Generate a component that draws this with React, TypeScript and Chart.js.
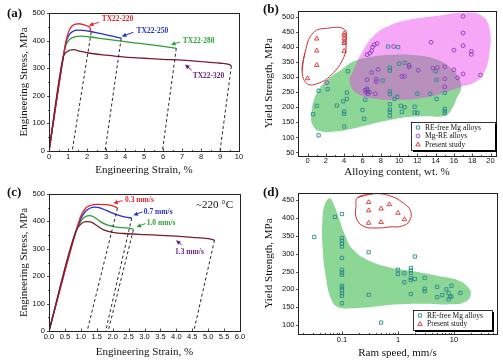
import { useEffect, useRef } from 'react';
import { Chart, registerables } from 'chart.js';

Chart.register(...registerables);

const SERIF = '"Liberation Serif", "Times New Roman", serif';
const SANS = '"Liberation Sans", Arial, sans-serif';

// ================= Panel (a): TX22 extruded at different temperatures =================
const aStrainTicks = [0, 1, 2, 3, 4, 5, 6, 7, 8, 9, 10];
const aStressTicks = [0, 100, 200, 300, 400, 500];

const tx220Strain = [0, 0.75, 0.9, 1.05, 1.2, 1.4, 1.6, 1.8, 2.05, 2.15, 2.2];
const tx220Stress = [0, 340, 400, 435, 452, 460, 461, 458, 452, 448, 432];
const tx250Strain = [0, 0.75, 0.9, 1.05, 1.25, 1.5, 1.8, 2.2, 2.6, 3.0, 3.4, 3.8];
const tx250Stress = [0, 340, 395, 420, 433, 438, 437, 433, 427, 421, 415, 409];
const tx280Strain = [0, 0.75, 0.9, 1.1, 1.4, 1.7, 2.2, 3.0, 4.0, 5.0, 6.0, 6.7];
const tx280Stress = [0, 340, 385, 405, 414, 416, 413, 405, 396, 388, 379, 372];
const tx320Strain = [0, 0.75, 0.9, 1.1, 1.3, 1.6, 2.0, 3.0, 4.0, 5.0, 6.0, 7.0, 8.0, 9.0, 9.5, 9.6];
const tx320Stress = [0, 340, 357, 365, 367, 362, 356, 347, 340, 336, 332, 329, 324, 318, 313, 308];

const aUnload1Strain = [2.22, 1.22];
const aUnload1Stress = [430, 0];
const aUnload2Strain = [3.8, 2.95];
const aUnload2Stress = [409, 0];
const aUnload3Strain = [6.7, 5.97];
const aUnload3Stress = [372, 0];
const aUnload4Strain = [9.6, 9.0];
const aUnload4Stress = [308, 0];

// ================= Panel (b): yield strength vs alloying content =================
const bContentTicks = [0, 2, 4, 6, 8, 10, 12, 14, 16, 18, 20];
const bYieldTicks = [50, 100, 150, 200, 250, 300, 350, 400, 450, 500];

const bFreeContent = [0.6, 1.0, 1.2, 1.2, 2.2, 3.2, 3.9, 4.0, 4.0, 4.0, 4.3, 4.3, 4.4, 6.0, 6.2, 6.3, 6.5, 6.6, 8.2, 8.8, 9.0, 9.0, 9.0, 9.0, 9.0, 9.0, 9.0, 9.0, 9.5, 9.8, 9.9, 10.0, 10.2, 10.3, 10.6, 10.6, 11.7, 11.7, 12.0, 12.0, 13.4, 14.0, 14.1, 14.1, 15.0, 15.0, 15.0, 15.0];
const bFreeYield = [177, 205, 107, 255, 260, 206, 220, 186, 178, 136, 228, 249, 320, 191, 162, 225, 258, 252, 289, 402, 332, 322, 253, 244, 210, 192, 185, 172, 228, 235, 400, 345, 205, 185, 200, 348, 202, 183, 182, 245, 245, 320, 291, 228, 248, 195, 187, 180];

const bReContent = [2.1, 6.3, 6.4, 6.5, 6.6, 6.8, 6.5, 6.5, 6.8, 7.0, 7.1, 7.3, 7.6, 7.0, 7.5, 7.5, 7.7, 7.4, 9.4, 10.3, 10.6, 11.1, 11.1, 12.1, 13.5, 13.7, 14.2, 15.0, 15.0, 15.0, 16.0, 16.0, 16.4, 17.0, 17.0, 17.0, 17.0, 17.9, 17.9, 18.9];
const bReYield = [282, 257, 250, 262, 245, 250, 292, 375, 380, 388, 400, 408, 412, 316, 293, 285, 326, 245, 402, 303, 303, 340, 334, 323, 416, 330, 332, 335, 295, 268, 390, 325, 298, 502, 447, 405, 311, 386, 376, 307];

const bPresentContent = [0, 1, 1, 1, 4, 4, 4, 4, 4, 4];
const bPresentYield = [296, 428, 388, 340, 445, 438, 428, 418, 413, 387];

const bGreenOutlineX = [0.4, 0.6, 1.3, 2.4, 3.7, 5.0, 7.0, 9.5, 12.0, 14.0, 15.5, 16.5, 16.8, 16.3, 15.8, 15.0, 13.0, 11.0, 9.0, 7.0, 5.0, 3.0, 1.2, 0.5];
const bGreenOutlineY = [170, 215, 262, 298, 325, 352, 368, 375, 372, 360, 335, 300, 265, 230, 195, 172, 170, 168, 158, 145, 130, 120, 122, 145];
const bPinkOutlineX = [4.6, 5.1, 6.0, 7.3, 9.0, 11.0, 14.0, 17.0, 19.0, 19.9, 19.9, 19.3, 18.3, 16.8, 15.3, 12.8, 10.0, 7.5, 5.5];
const bPinkOutlineY = [285, 330, 385, 440, 472, 490, 503, 514, 505, 460, 385, 315, 283, 268, 252, 232, 225, 228, 245];
const bLoopX = [-0.6, -0.3, 0.6, 2.2, 4.05, 4.2, 4.0, 2.6, 1.0, -0.1];
const bLoopY = [320, 380, 447, 463, 458, 413, 369, 308, 278, 280];

// ================= Panel (c): TX22 at different ram speeds =================
const cStrainTicks = [0, 0.5, 1, 1.5, 2, 2.5, 3, 3.5, 4, 4.5, 5, 5.5, 6];
const cStressTicks = [0, 100, 200, 300, 400, 500];

const s03Strain = [0, 0.85, 1.0, 1.15, 1.3, 1.5, 1.8, 2.0, 2.1, 2.15];
const s03Stress = [0, 365, 420, 448, 458, 462, 461, 457, 452, 448];
const s07Strain = [0, 0.85, 1.0, 1.15, 1.3, 1.45, 1.6, 1.8, 2.0, 2.2, 2.4, 2.6];
const s07Stress = [0, 365, 410, 437, 449, 452, 449, 440, 430, 422, 416, 412];
const s10Strain = [0, 0.85, 1.0, 1.1, 1.25, 1.4, 1.6, 1.8, 2.0, 2.3, 2.6, 2.65];
const s10Stress = [0, 365, 400, 414, 421, 417, 400, 388, 382, 377, 374, 369];
const s13Strain = [0, 0.85, 1.0, 1.15, 1.3, 1.5, 1.7, 2.0, 2.5, 3.0, 3.5, 4.0, 4.5, 5.0, 5.2];
const s13Stress = [0, 365, 390, 399, 398, 385, 370, 360, 355, 352, 349, 346, 342, 337, 332];

const cUnload1Strain = [2.15, 1.2];
const cUnload1Stress = [448, 0];
const cUnload2Strain = [2.6, 1.78];
const cUnload2Stress = [412, 0];
const cUnload3Strain = [2.65, 1.86];
const cUnload3Stress = [369, 0];
const cUnload4Strain = [5.2, 4.55];
const cUnload4Stress = [332, 0];

// ================= Panel (d): yield strength vs ram speed =================
const dSpeedTicks = [0.1, 1, 10];
const dSpeedMinor = [0.02, 0.03, 0.04, 0.05, 0.06, 0.07, 0.08, 0.09, 0.2, 0.3, 0.4, 0.5, 0.6, 0.7, 0.8, 0.9, 2, 3, 4, 5, 6, 7, 8, 9, 20, 30, 40, 50];
const dYieldTicks = [100, 150, 200, 250, 300, 350, 400, 450];

const dFreeSpeed = [0.032, 0.075, 0.1, 0.1, 0.1, 0.1, 0.1, 0.1, 0.1, 0.1, 0.1, 0.1, 0.1, 0.1, 0.1, 0.1, 0.1, 0.3, 0.3, 0.5, 1, 1, 1.3, 1.3, 1.7, 1.7, 1.7, 1.7, 1.7, 1.7, 2, 2, 3, 3, 3, 5, 5, 6.2, 7.3, 8, 8, 8.5, 9, 9, 13];
const dFreeYield = [347, 403, 411, 344, 336, 328, 320, 288, 255, 247, 241, 210, 205, 198, 189, 182, 161, 304, 185, 107, 255, 243, 245, 220, 260, 253, 246, 232, 226, 187, 292, 229, 232, 202, 195, 207, 178, 184, 200, 190, 172, 180, 210, 180, 190];
const dPresentSpeed = [0.3, 0.3, 0.3, 0.5, 0.5, 0.7, 1.0, 1.3];
const dPresentYield = [444, 421, 386, 426, 388, 438, 414, 396];

const dGreenOutlineX = [0.061, 0.075, 0.09, 0.115, 0.15, 0.28, 0.7, 2.0, 5, 12, 18, 20, 16, 9, 3, 1, 0.4, 0.15, 0.085, 0.065, 0.052, 0.045, 0.045, 0.05];
const dGreenOutlineY = [455, 430, 395, 350, 315, 283, 262, 250, 238, 225, 205, 185, 165, 158, 160, 158, 152, 147, 150, 170, 230, 320, 400, 440];
const dLoopX = [0.19, 0.36, 0.72, 1.24, 1.68, 1.59, 1.16, 0.72, 0.42, 0.24, 0.18, 0.178];
const dLoopY = [457, 468, 462, 442, 419, 391, 377, 375, 372, 377, 400, 433];

// ================= helpers =================
const C_RED = '#e3262b';
const C_BLUE = '#2430cc';
const C_GREEN = '#2f9e3a';
const C_MAROON = '#7a1c30';
const C_PURPLE = '#6c2080';
const C_TEAL = '#2e8b8b';
const C_VIOLET = '#8a3ac0';
const C_TRI = '#d03434';

const pts = (xs: number[], ys: number[]) => xs.map((x, i) => ({ x, y: ys[i] }));
const loopPts = (xs: number[], ys: number[]) => {
  const p = pts(xs, ys);
  return [...p, p[0], p[1]];
};
const mids = (t: number[]) => t.slice(0, -1).map((v, i) => (v + t[i + 1]) / 2);

const curve = (xs: number[], ys: number[], color: string) => ({
  data: pts(xs, ys),
  showLine: true,
  borderColor: color,
  borderWidth: 1.3,
  pointRadius: 0,
  cubicInterpolationMode: 'monotone',
  fill: false,
});
const dashed = (xs: number[], ys: number[]) => ({
  data: pts(xs, ys),
  showLine: true,
  borderColor: '#111',
  borderWidth: 0.9,
  borderDash: [3, 2.5],
  pointRadius: 0,
  fill: false,
});
const scatter = (xs: number[], ys: number[], color: string, style: string, r: number, order: number) => ({
  data: pts(xs, ys),
  showLine: false,
  pointStyle: style,
  pointRadius: r,
  pointBorderWidth: 0.9,
  pointBorderColor: color,
  pointBackgroundColor: 'rgba(0,0,0,0)',
  borderColor: color,
  order,
});
const blob = (xs: number[], ys: number[], fillColor: string, order: number) => ({
  data: loopPts(xs, ys),
  showLine: true,
  borderWidth: 0,
  borderColor: 'rgba(0,0,0,0)',
  backgroundColor: fillColor,
  fill: 'shape',
  tension: 0.45,
  pointRadius: 0,
  order,
});
const outline = (xs: number[], ys: number[], color: string, order: number) => ({
  data: loopPts(xs, ys),
  showLine: true,
  borderWidth: 1,
  borderColor: color,
  fill: false,
  tension: 0.45,
  pointRadius: 0,
  order,
});

function axis(cfg: {
  type?: string;
  min: number;
  max: number;
  ticks: number[];
  fmt?: (v: number) => string;
  horiz: boolean;
  fit: number;
  title: string;
  titlePad: number;
  tickPad: number;
}) {
  return {
    type: cfg.type || 'linear',
    min: cfg.min,
    max: cfg.max,
    afterBuildTicks: (s: any) => {
      s.ticks = cfg.ticks.map((v) => ({ value: v }));
    },
    afterFit: (s: any) => {
      if (cfg.horiz) s.height = cfg.fit;
      else s.width = cfg.fit;
    },
    grid: { display: false, drawTicks: false },
    border: { display: false },
    ticks: {
      autoSkip: false,
      maxRotation: 0,
      padding: cfg.tickPad,
      color: '#111',
      font: { family: SANS, size: 7.5 },
      callback: (v: any) => (cfg.fmt ? cfg.fmt(Number(v)) : String(v)),
    },
    title: {
      display: true,
      text: cfg.title,
      color: '#111',
      font: { family: SERIF, size: 11 },
      padding: cfg.horiz ? { top: 0, bottom: cfg.titlePad } : { top: cfg.titlePad, bottom: 0 },
    },
  };
}

type Note = { t: string; x: number; y: number; c: string; f: string; arrow?: number[] };
type LegendItem = { kind: string; color: string; text: string };
type Deco = {
  label: string;
  lx: number;
  ly: number;
  xMajor: number[];
  xMinor: number[];
  yMajor: number[];
  yMinor: number[];
  notes: Note[];
  legend?: { dr: number; db: number; w: number; h: number; y0: number; dy: number; items: LegendItem[] };
};

function marker(ctx: CanvasRenderingContext2D, kind: string, x: number, y: number, color: string) {
  ctx.strokeStyle = color;
  ctx.lineWidth = 0.9;
  ctx.beginPath();
  if (kind === 'rect') ctx.rect(x - 1.6, y - 1.6, 3.2, 3.2);
  else if (kind === 'circle') ctx.arc(x, y, 1.9, 0, Math.PI * 2);
  else {
    ctx.moveTo(x, y - 2.4);
    ctx.lineTo(x + 2.2, y + 1.4);
    ctx.lineTo(x - 2.2, y + 1.4);
    ctx.closePath();
  }
  ctx.stroke();
}

function makeDeco(o: Deco) {
  return {
    id: 'deco',
    afterDraw(chart: any) {
      const ctx: CanvasRenderingContext2D = chart.ctx;
      const a = chart.chartArea;
      const xs = chart.scales.x;
      const ys = chart.scales.y;
      ctx.save();
      // frame
      ctx.strokeStyle = '#222';
      ctx.lineWidth = 1;
      const L = Math.round(a.left) + 0.5;
      const T = Math.round(a.top) + 0.5;
      const R = Math.round(a.right) + 0.5;
      const B = Math.round(a.bottom) + 0.5;
      ctx.strokeRect(L, T, R - L, B - T);
      // ticks
      const xt = (vals: number[], len: number) =>
        vals.forEach((v) => {
          const p = Math.round(xs.getPixelForValue(v)) + 0.5;
          if (p < L - 0.1 || p > R + 0.1) return;
          ctx.beginPath();
          ctx.moveTo(p, B);
          ctx.lineTo(p, B - len);
          ctx.stroke();
        });
      const yt = (vals: number[], len: number) =>
        vals.forEach((v) => {
          const p = Math.round(ys.getPixelForValue(v)) + 0.5;
          if (p < T - 0.1 || p > B + 0.1) return;
          ctx.beginPath();
          ctx.moveTo(L, p);
          ctx.lineTo(L - len, p);
          ctx.stroke();
        });
      ctx.lineWidth = 0.8;
      xt(o.xMajor, 3);
      xt(o.xMinor, 1.6);
      yt(o.yMajor, 2.5);
      yt(o.yMinor, 1.4);
      // notes with arrows
      for (const n of o.notes) {
        ctx.font = n.f;
        ctx.fillStyle = n.c;
        ctx.textAlign = 'left';
        ctx.textBaseline = 'middle';
        ctx.fillText(n.t, xs.getPixelForValue(n.x), ys.getPixelForValue(n.y));
        if (n.arrow) {
          const x1 = xs.getPixelForValue(n.arrow[0]);
          const y1 = ys.getPixelForValue(n.arrow[1]);
          const x2 = xs.getPixelForValue(n.arrow[2]);
          const y2 = ys.getPixelForValue(n.arrow[3]);
          const ang = Math.atan2(y2 - y1, x2 - x1);
          const hl = 4.5;
          const hw = 2.2;
          const cs = Math.cos(ang);
          const sn = Math.sin(ang);
          ctx.strokeStyle = n.c;
          ctx.lineWidth = 1;
          ctx.beginPath();
          ctx.moveTo(x1, y1);
          ctx.lineTo(x2 - hl * 0.6 * cs, y2 - hl * 0.6 * sn);
          ctx.stroke();
          ctx.beginPath();
          ctx.moveTo(x2, y2);
          ctx.lineTo(x2 - hl * cs + hw * sn, y2 - hl * sn - hw * cs);
          ctx.lineTo(x2 - hl * cs - hw * sn, y2 - hl * sn + hw * cs);
          ctx.closePath();
          ctx.fill();
        }
      }
      // legend box
      if (o.legend) {
        const g = o.legend;
        const right = Math.round(a.right - g.dr);
        const bottom = Math.round(a.bottom - g.db);
        const left = right - g.w;
        const top = bottom - g.h;
        ctx.fillStyle = '#000';
        ctx.fillRect(left + 2, top + 2, g.w, g.h);
        ctx.fillStyle = '#fff';
        ctx.fillRect(left, top, g.w, g.h);
        ctx.strokeStyle = '#000';
        ctx.lineWidth = 0.8;
        ctx.strokeRect(left + 0.5, top + 0.5, g.w, g.h);
        g.items.forEach((it, i) => {
          const cy = top + g.y0 + i * g.dy;
          marker(ctx, it.kind, left + 7, cy, it.color);
          ctx.fillStyle = '#111';
          ctx.font = `7.5px ${SERIF}`;
          ctx.textAlign = 'left';
          ctx.textBaseline = 'middle';
          ctx.fillText(it.text, left + 14, cy + 0.5);
        });
      }
      // panel label
      ctx.fillStyle = '#111';
      ctx.font = `bold 13px ${SERIF}`;
      ctx.textAlign = 'left';
      ctx.textBaseline = 'alphabetic';
      ctx.fillText(o.label, o.lx, o.ly);
      ctx.restore();
    },
  };
}

const baseOptions = (padding: any, scales: any) => ({
  responsive: false,
  animation: false,
  events: [],
  devicePixelRatio: 1,
  layout: { padding },
  plugins: { legend: { display: false }, tooltip: { enabled: false } },
  scales,
});

const NOTE_FONT = `bold 7.5px ${SERIF}`;

function configA(): any {
  return {
    type: 'scatter',
    data: {
      datasets: [
        dashed(aUnload1Strain, aUnload1Stress),
        dashed(aUnload2Strain, aUnload2Stress),
        dashed(aUnload3Strain, aUnload3Stress),
        dashed(aUnload4Strain, aUnload4Stress),
        curve(tx320Strain, tx320Stress, C_MAROON),
        curve(tx220Strain, tx220Stress, C_RED),
        curve(tx250Strain, tx250Stress, C_BLUE),
        curve(tx280Strain, tx280Stress, C_GREEN),
      ],
    },
    options: baseOptions(
      { left: 0, top: 13, right: 12, bottom: 0 },
      {
        x: axis({ min: 0, max: 10, ticks: aStrainTicks, horiz: true, fit: 30, title: 'Engineering Strain, %', titlePad: 4.4, tickPad: 1.5 }),
        y: axis({ min: 0, max: 500, ticks: aStressTicks, horiz: false, fit: 49, title: 'Engineering Stress, MPa', titlePad: 18, tickPad: 4 }),
      }
    ),
    plugins: [
      makeDeco({
        label: '(a)',
        lx: 7,
        ly: 17,
        xMajor: aStrainTicks,
        xMinor: mids(aStrainTicks),
        yMajor: aStressTicks,
        yMinor: mids(aStressTicks),
        notes: [
          { t: 'TX22-220', x: 2.77, y: 478, c: C_RED, f: NOTE_FONT, arrow: [2.62, 466, 2.1, 455] },
          { t: 'TX22-250', x: 4.61, y: 435, c: C_BLUE, f: NOTE_FONT, arrow: [4.44, 430, 3.83, 415] },
          { t: 'TX22-280', x: 7.04, y: 400, c: C_GREEN, f: NOTE_FONT, arrow: [6.9, 395, 6.42, 385] },
          { t: 'TX22-320', x: 7.56, y: 272, c: C_PURPLE, f: NOTE_FONT, arrow: [7.5, 293, 7.16, 313] },
        ],
      }),
    ],
  };
}

function configB(): any {
  return {
    type: 'scatter',
    data: {
      datasets: [
        blob(bGreenOutlineX, bGreenOutlineY, 'rgb(140,214,150)', 12),
        blob(bPinkOutlineX, bPinkOutlineY, 'rgba(235,60,235,0.45)', 11),
        outline(bLoopX, bLoopY, '#c83232', 10),
        scatter(bFreeContent, bFreeYield, C_TEAL, 'rect', 2.3, 2),
        scatter(bReContent, bReYield, C_VIOLET, 'circle', 1.9, 1),
        scatter(bPresentContent, bPresentYield, C_TRI, 'triangle', 2.6, 0),
      ],
    },
    options: baseOptions(
      { left: 0, top: 11, right: 7, bottom: 0 },
      {
        x: axis({ min: -1.05, max: 20.6, ticks: bContentTicks, horiz: true, fit: 25.5, title: 'Alloying content, wt. %', titlePad: 2.4, tickPad: 0.5 }),
        y: axis({ min: 40, max: 520, ticks: bYieldTicks, horiz: false, fit: 47, title: 'Yield Strength, MPa', titlePad: 11.4, tickPad: 3.5 }),
      }
    ),
    plugins: [
      makeDeco({
        label: '(b)',
        lx: 12,
        ly: 13,
        xMajor: bContentTicks,
        xMinor: [-1, 1, 3, 5, 7, 9, 11, 13, 15, 17, 19],
        yMajor: bYieldTicks,
        yMinor: [],
        notes: [],
        legend: {
          dr: 1,
          db: 6,
          w: 84,
          h: 28,
          y0: 5.5,
          dy: 8.5,
          items: [
            { kind: 'rect', color: C_TEAL, text: 'RE-free Mg alloys' },
            { kind: 'circle', color: C_VIOLET, text: 'Mg-RE alloys' },
            { kind: 'triangle', color: C_TRI, text: 'Present study' },
          ],
        },
      }),
    ],
  };
}

function configC(): any {
  return {
    type: 'scatter',
    data: {
      datasets: [
        dashed(cUnload1Strain, cUnload1Stress),
        dashed(cUnload2Strain, cUnload2Stress),
        dashed(cUnload3Strain, cUnload3Stress),
        dashed(cUnload4Strain, cUnload4Stress),
        curve(s13Strain, s13Stress, C_MAROON),
        curve(s03Strain, s03Stress, C_RED),
        curve(s07Strain, s07Stress, C_BLUE),
        curve(s10Strain, s10Stress, C_GREEN),
      ],
    },
    options: baseOptions(
      { left: 0, top: 13, right: 11, bottom: 0 },
      {
        x: axis({ min: 0, max: 6, ticks: cStrainTicks, fmt: (v) => v.toFixed(1), horiz: true, fit: 31, title: 'Engineering Strain, %', titlePad: 3.5, tickPad: 1.5 }),
        y: axis({ min: 0, max: 500, ticks: cStressTicks, horiz: false, fit: 49, title: 'Engineering Stress, MPa', titlePad: 18, tickPad: 4 }),
      }
    ),
    plugins: [
      makeDeco({
        label: '(c)',
        lx: 7,
        ly: 15,
        xMajor: cStrainTicks,
        xMinor: [],
        yMajor: cStressTicks,
        yMinor: mids(cStressTicks),
        notes: [
          { t: '0.3 mm/s', x: 2.39, y: 478, c: C_RED, f: NOTE_FONT, arrow: [2.31, 476, 2.02, 466] },
          { t: '0.7 mm/s', x: 2.98, y: 435, c: C_BLUE, f: NOTE_FONT, arrow: [2.94, 435, 2.65, 422] },
          { t: '1.0 mm/s', x: 3.07, y: 393, c: C_GREEN, f: NOTE_FONT, arrow: [3.03, 392, 2.75, 380] },
          { t: '1.3 mm/s', x: 3.96, y: 287, c: C_PURPLE, f: NOTE_FONT, arrow: [4.17, 314, 3.99, 331] },
          { t: '~220 \u00B0C', x: 4.62, y: 460, c: '#111', f: `11px ${SERIF}` },
        ],
      }),
    ],
  };
}

function configD(): any {
  return {
    type: 'scatter',
    data: {
      datasets: [
        blob(dGreenOutlineX, dGreenOutlineY, 'rgb(140,214,150)', 12),
        outline(dLoopX, dLoopY, '#c83232', 10),
        scatter(dFreeSpeed, dFreeYield, C_TEAL, 'rect', 2.3, 1),
        scatter(dPresentSpeed, dPresentYield, C_TRI, 'triangle', 2.6, 0),
      ],
    },
    options: baseOptions(
      { left: 0, top: 12, right: 6, bottom: 0 },
      {
        x: axis({ type: 'logarithmic', min: 0.0164, max: 58.6, ticks: dSpeedTicks, horiz: true, fit: 28, title: 'Ram speed, mm/s', titlePad: 2.4, tickPad: 1.5 }),
        y: axis({ min: 75, max: 470, ticks: dYieldTicks, horiz: false, fit: 47, title: 'Yield Strength, MPa', titlePad: 11.4, tickPad: 3.5 }),
      }
    ),
    plugins: [
      makeDeco({
        label: '(d)',
        lx: 12,
        ly: 15,
        xMajor: dSpeedTicks,
        xMinor: dSpeedMinor,
        yMajor: dYieldTicks,
        yMinor: [],
        notes: [],
        legend: {
          dr: 5,
          db: 4,
          w: 79,
          h: 20,
          y0: 5.5,
          dy: 8.5,
          items: [
            { kind: 'rect', color: C_TEAL, text: 'RE-free Mg alloys' },
            { kind: 'triangle', color: C_TRI, text: 'Present study' },
          ],
        },
      }),
    ],
  };
}

export default function App() {
  const ra = useRef<HTMLCanvasElement>(null);
  const rb = useRef<HTMLCanvasElement>(null);
  const rc = useRef<HTMLCanvasElement>(null);
  const rd = useRef<HTMLCanvasElement>(null);

  useEffect(() => {
    const charts: Chart[] = [];
    const pairs: [HTMLCanvasElement | null, () => any][] = [
      [ra.current, configA],
      [rb.current, configB],
      [rc.current, configC],
      [rd.current, configD],
    ];
    for (const [el, cfg] of pairs) {
      if (el) charts.push(new Chart(el, cfg()));
    }
    return () => charts.forEach((c) => c.destroy());
  }, []);

  const cv = (left: number, top: number, w: number): any => ({
    position: 'absolute',
    left,
    top,
    width: w,
    height: 181,
    display: 'block',
  });

  return (
    <div style={{ position: 'absolute', left: 0, top: 0, width: 503, height: 362, background: '#fff', overflow: 'hidden' }}>
      <canvas ref={ra} width={251} height={181} style={cv(0, 0, 251)} />
      <canvas ref={rb} width={252} height={181} style={cv(251, 0, 252)} />
      <canvas ref={rc} width={251} height={181} style={cv(0, 181, 251)} />
      <canvas ref={rd} width={252} height={181} style={cv(251, 181, 252)} />
    </div>
  );
}
